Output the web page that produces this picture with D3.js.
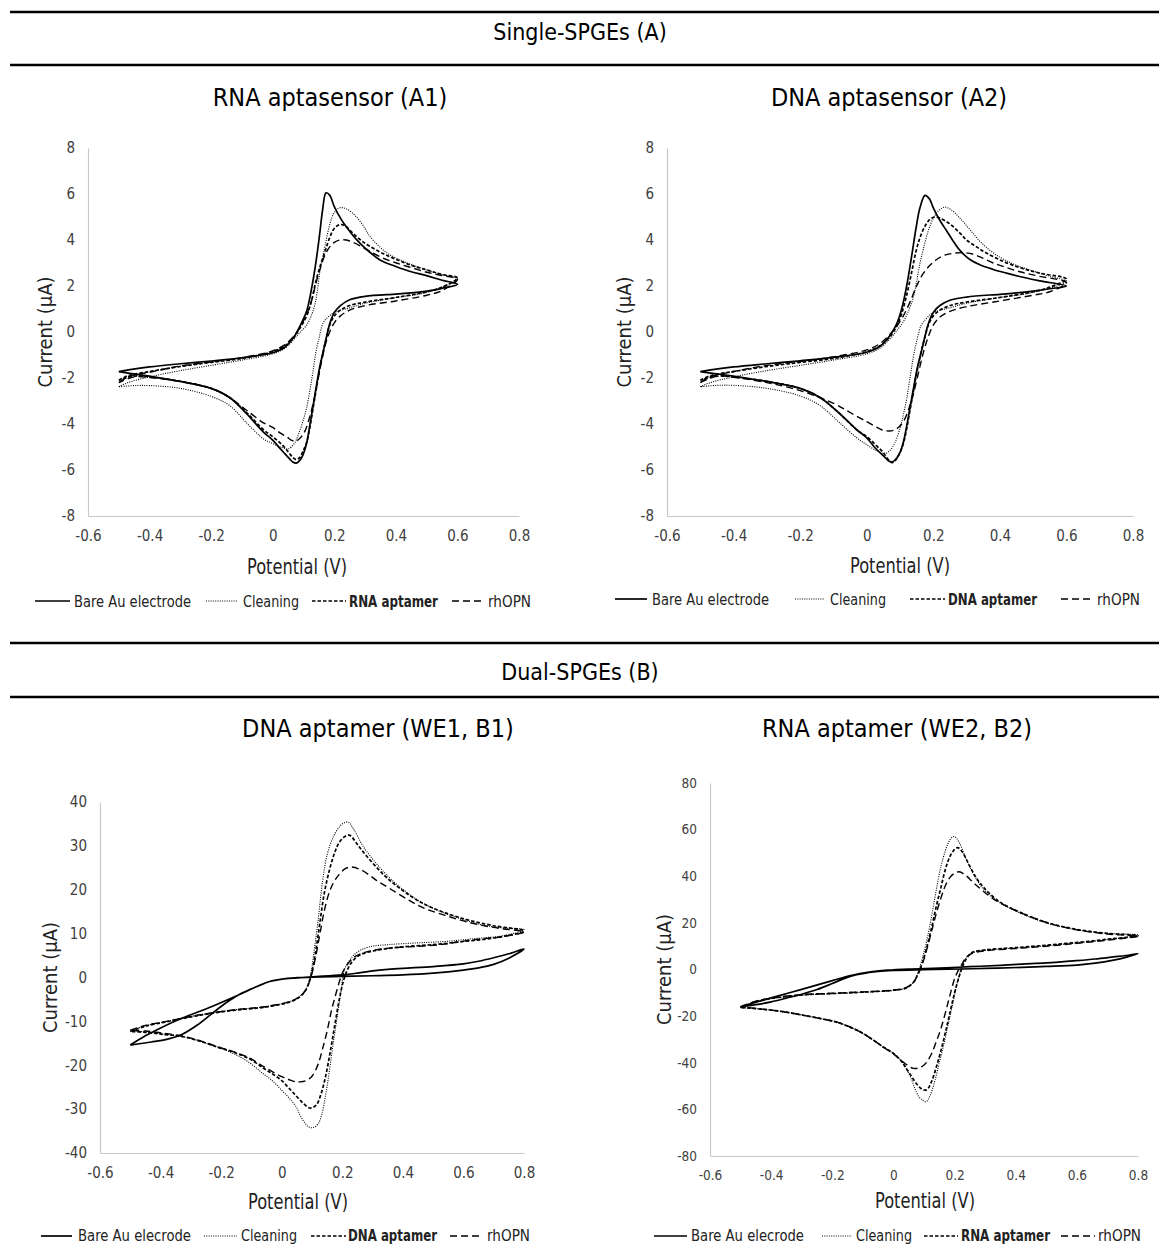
<!DOCTYPE html>
<html>
<head>
<meta charset="utf-8">
<script src="https://cdn.jsdelivr.net/npm/d3@7"></script>
<style>
  body { margin: 0; background: #fff; }
  svg { display: block; }
  text { font-family: 'Liberation Sans Narrow', 'Arial Narrow', 'DejaVu Sans Condensed', sans-serif; fill: #000; }
</style>
</head>
<body>
<svg id="fig" width="1159" height="1249"></svg>
<script>
// ---- data: [potential (V), current (uA)], forward scan then reverse scan ----
var a1Bare = [[-0.5,-1.72],[-0.4,-1.52],[-0.3,-1.38],[-0.2,-1.26],[-0.1,-1.12],[0,-0.9],[0.04,-0.65],[0.07,-0.2],[0.09,0.3],[0.11,0.9],[0.125,1.8],[0.14,3.0],[0.152,4.2],[0.162,5.3],[0.173,6.05],[0.185,5.95],[0.2,5.45],[0.22,4.95],[0.24,4.55],[0.27,4.05],[0.3,3.65],[0.35,3.12],[0.4,2.85],[0.45,2.62],[0.5,2.45],[0.55,2.25],[0.6,2.08],
  [0.55,1.9],[0.5,1.78],[0.45,1.7],[0.4,1.65],[0.3,1.55],[0.25,1.4],[0.22,1.15],[0.2,0.85],[0.185,0.35],[0.175,-0.2],[0.165,-0.8],[0.153,-1.5],[0.14,-2.5],[0.13,-3.3],[0.12,-4.1],[0.11,-4.85],[0.098,-5.35],[0.088,-5.58],[0.077,-5.7],[0.065,-5.65],[0.055,-5.52],[0.04,-5.3],[0.023,-5.05],[0,-4.7],[-0.03,-4.35],[-0.085,-3.55],[-0.14,-2.85],[-0.2,-2.45],[-0.3,-2.15],[-0.4,-1.92],[-0.5,-1.72]];
var a1Cleaning = [[-0.5,-2.38],[-0.47,-2.2],[-0.4,-1.95],[-0.3,-1.68],[-0.2,-1.45],[-0.1,-1.22],[0,-0.95],[0.04,-0.7],[0.07,-0.3],[0.09,0.0],[0.11,0.3],[0.125,0.7],[0.137,1.2],[0.145,1.8],[0.153,2.6],[0.162,3.2],[0.17,3.75],[0.186,4.7],[0.2,5.2],[0.218,5.4],[0.24,5.35],[0.272,5.0],[0.3,4.5],[0.316,4.15],[0.37,3.45],[0.42,3.1],[0.446,2.95],[0.5,2.7],[0.55,2.5],[0.6,2.3],
  [0.5,1.72],[0.4,1.5],[0.3,1.25],[0.25,1.05],[0.2,0.85],[0.18,0.65],[0.164,0.4],[0.15,-0.3],[0.14,-0.9],[0.13,-1.8],[0.12,-2.6],[0.11,-3.3],[0.1,-3.8],[0.085,-4.4],[0.07,-4.85],[0.05,-5.08],[0.03,-5.02],[0,-4.85],[-0.03,-4.65],[-0.085,-3.95],[-0.14,-3.2],[-0.2,-2.8],[-0.3,-2.45],[-0.4,-2.33],[-0.45,-2.33],[-0.5,-2.38]];
var a1Aptamer = [[-0.5,-2.1],[-0.47,-1.9],[-0.4,-1.72],[-0.3,-1.5],[-0.2,-1.32],[-0.1,-1.15],[0,-0.85],[0.04,-0.6],[0.07,-0.2],[0.09,0.2],[0.11,0.7],[0.125,1.3],[0.14,2.2],[0.155,2.9],[0.17,3.5],[0.185,4.1],[0.2,4.5],[0.218,4.67],[0.235,4.62],[0.26,4.3],[0.29,3.95],[0.316,3.72],[0.36,3.4],[0.402,3.15],[0.45,2.9],[0.5,2.7],[0.55,2.5],[0.6,2.35],
  [0.55,1.95],[0.5,1.75],[0.4,1.5],[0.3,1.3],[0.25,1.15],[0.22,0.95],[0.2,0.7],[0.185,0.3],[0.175,-0.2],[0.163,-0.9],[0.15,-1.8],[0.14,-2.6],[0.13,-3.4],[0.12,-4.2],[0.11,-4.8],[0.098,-5.2],[0.088,-5.45],[0.077,-5.55],[0.065,-5.45],[0.05,-5.2],[0.03,-4.9],[0,-4.55],[-0.03,-4.25],[-0.085,-3.5],[-0.14,-2.85],[-0.2,-2.45],[-0.3,-2.15],[-0.4,-1.95],[-0.45,-1.92],[-0.5,-2.1]];
var a1Rhopn = [[-0.5,-2.2],[-0.47,-1.95],[-0.4,-1.75],[-0.3,-1.48],[-0.2,-1.3],[-0.1,-1.12],[0,-0.82],[0.04,-0.55],[0.07,-0.15],[0.09,0.25],[0.11,0.75],[0.125,1.3],[0.14,2.1],[0.155,2.8],[0.17,3.35],[0.185,3.7],[0.2,3.9],[0.218,4.0],[0.24,4.0],[0.26,3.9],[0.29,3.7],[0.316,3.5],[0.36,3.2],[0.402,3.0],[0.45,2.8],[0.5,2.6],[0.55,2.45],[0.6,2.3],
  [0.55,1.8],[0.5,1.6],[0.4,1.35],[0.3,1.15],[0.25,0.95],[0.22,0.7],[0.2,0.4],[0.185,0.0],[0.172,-0.5],[0.16,-1.2],[0.148,-2.0],[0.135,-2.9],[0.12,-3.7],[0.105,-4.3],[0.09,-4.6],[0.075,-4.75],[0.06,-4.7],[0.045,-4.55],[0.025,-4.4],[0,-4.15],[-0.03,-3.95],[-0.085,-3.4],[-0.14,-2.85],[-0.2,-2.45],[-0.3,-2.15],[-0.4,-1.98],[-0.45,-1.95],[-0.5,-2.2]];

var a2Bare = [[-0.5,-1.72],[-0.4,-1.52],[-0.3,-1.38],[-0.2,-1.25],[-0.1,-1.1],[0,-0.88],[0.04,-0.62],[0.07,-0.15],[0.09,0.35],[0.105,1.0],[0.12,2.0],[0.135,3.3],[0.148,4.5],[0.16,5.4],[0.175,5.94],[0.188,5.8],[0.2,5.4],[0.22,4.85],[0.24,4.4],[0.26,3.95],[0.28,3.55],[0.31,3.15],[0.34,2.92],[0.38,2.72],[0.42,2.56],[0.47,2.38],[0.52,2.22],[0.6,2.0],
  [0.55,1.88],[0.5,1.78],[0.45,1.7],[0.4,1.64],[0.3,1.52],[0.25,1.38],[0.22,1.15],[0.2,0.85],[0.185,0.35],[0.175,-0.2],[0.165,-0.8],[0.153,-1.5],[0.14,-2.5],[0.13,-3.3],[0.12,-4.1],[0.11,-4.8],[0.098,-5.3],[0.088,-5.52],[0.077,-5.65],[0.065,-5.6],[0.055,-5.45],[0.04,-5.25],[0.023,-5.0],[0,-4.6],[-0.03,-4.25],[-0.085,-3.5],[-0.14,-2.85],[-0.2,-2.45],[-0.3,-2.15],[-0.4,-1.92],[-0.5,-1.72]];
var a2Cleaning = [[-0.5,-2.38],[-0.47,-2.2],[-0.4,-1.95],[-0.3,-1.68],[-0.2,-1.45],[-0.1,-1.22],[0,-0.95],[0.04,-0.7],[0.07,-0.3],[0.09,0.05],[0.11,0.45],[0.125,0.9],[0.14,1.5],[0.15,2.2],[0.16,3.0],[0.17,3.6],[0.185,4.4],[0.2,4.95],[0.218,5.3],[0.235,5.43],[0.255,5.3],[0.28,4.95],[0.31,4.45],[0.35,3.8],[0.4,3.25],[0.45,2.9],[0.5,2.65],[0.55,2.42],[0.6,2.2],
  [0.5,1.72],[0.4,1.5],[0.3,1.25],[0.25,1.05],[0.2,0.85],[0.18,0.6],[0.164,0.3],[0.15,-0.4],[0.14,-1.1],[0.13,-2.0],[0.12,-2.9],[0.11,-3.6],[0.1,-4.2],[0.085,-4.8],[0.07,-5.15],[0.055,-5.28],[0.035,-5.2],[0,-4.9],[-0.03,-4.6],[-0.085,-3.9],[-0.14,-3.2],[-0.2,-2.78],[-0.3,-2.45],[-0.4,-2.32],[-0.45,-2.32],[-0.5,-2.38]];
var a2Aptamer = [[-0.5,-2.1],[-0.47,-1.9],[-0.4,-1.72],[-0.3,-1.5],[-0.2,-1.32],[-0.1,-1.15],[0,-0.85],[0.04,-0.6],[0.07,-0.2],[0.09,0.25],[0.105,0.8],[0.12,1.6],[0.135,2.6],[0.148,3.5],[0.16,4.1],[0.175,4.6],[0.19,4.9],[0.205,5.0],[0.22,4.95],[0.25,4.7],[0.28,4.3],[0.3,4.0],[0.33,3.7],[0.36,3.43],[0.41,3.07],[0.46,2.8],[0.52,2.56],[0.6,2.3],
  [0.55,1.95],[0.5,1.75],[0.4,1.5],[0.3,1.3],[0.25,1.15],[0.22,0.95],[0.2,0.7],[0.185,0.3],[0.175,-0.2],[0.163,-0.9],[0.15,-1.8],[0.14,-2.6],[0.13,-3.4],[0.12,-4.2],[0.11,-4.85],[0.098,-5.3],[0.088,-5.55],[0.077,-5.68],[0.065,-5.55],[0.05,-5.25],[0.03,-4.95],[0,-4.55],[-0.03,-4.25],[-0.085,-3.5],[-0.14,-2.85],[-0.2,-2.45],[-0.3,-2.15],[-0.4,-1.95],[-0.45,-1.92],[-0.5,-2.1]];
var a2Rhopn = [[-0.5,-2.2],[-0.47,-1.95],[-0.4,-1.72],[-0.3,-1.45],[-0.2,-1.28],[-0.1,-1.08],[0,-0.78],[0.04,-0.5],[0.07,-0.1],[0.09,0.25],[0.11,0.7],[0.13,1.3],[0.15,2.0],[0.17,2.55],[0.19,2.9],[0.21,3.15],[0.23,3.32],[0.26,3.42],[0.29,3.45],[0.32,3.38],[0.35,3.2],[0.38,3.0],[0.41,2.85],[0.46,2.62],[0.52,2.42],[0.6,2.15],
  [0.55,1.75],[0.5,1.6],[0.4,1.35],[0.3,1.1],[0.25,0.9],[0.22,0.65],[0.2,0.3],[0.185,-0.2],[0.17,-0.9],[0.155,-1.8],[0.14,-2.7],[0.125,-3.4],[0.11,-3.9],[0.095,-4.15],[0.08,-4.28],[0.06,-4.3],[0.045,-4.25],[0.025,-4.1],[0,-3.9],[-0.05,-3.5],[-0.1,-3.1],[-0.2,-2.55],[-0.3,-2.2],[-0.4,-1.97],[-0.45,-1.92],[-0.5,-2.2]];

var b1Bare = [[-0.5,-15.4],[-0.45,-13.3],[-0.4,-11.5],[-0.33,-9.3],[-0.23,-6.6],[-0.13,-3.6],[-0.08,-2.0],[-0.04,-0.9],[0,-0.4],[0.05,-0.1],[0.1,0.15],[0.2,0.6],[0.25,1.0],[0.3,1.5],[0.35,1.85],[0.4,2.1],[0.5,2.5],[0.6,3.1],[0.65,3.7],[0.7,4.5],[0.75,5.4],[0.8,6.5],
  [0.75,4.4],[0.7,3.0],[0.65,2.2],[0.6,1.7],[0.5,1.0],[0.4,0.6],[0.3,0.4],[0.2,0.25],[0.1,0.1],[0.05,-0.05],[0,-0.35],[-0.04,-0.9],[-0.08,-2.0],[-0.13,-3.5],[-0.18,-5.6],[-0.23,-8.2],[-0.28,-10.9],[-0.33,-13.0],[-0.38,-14.1],[-0.43,-14.7],[-0.47,-15.1],[-0.5,-15.4]];
var b1Cleaning = [[-0.5,-12.2],[-0.45,-11.0],[-0.38,-10.0],[-0.27,-8.5],[-0.16,-7.4],[-0.05,-6.6],[0.03,-5.4],[0.06,-4.3],[0.08,-2.6],[0.095,0.5],[0.105,5],[0.12,13],[0.135,22],[0.15,28],[0.17,32],[0.19,34.3],[0.205,35.2],[0.22,35.4],[0.24,33.5],[0.268,30],[0.3,27],[0.33,24.6],[0.37,21.8],[0.415,19.3],[0.47,16.8],[0.537,14.7],[0.6,13.2],[0.66,12.0],[0.73,11.3],[0.8,10.9],
  [0.73,9.5],[0.66,9.0],[0.6,8.6],[0.537,8.2],[0.45,7.9],[0.354,7.5],[0.29,7.0],[0.25,5.8],[0.225,4.0],[0.207,1.75],[0.195,-3.6],[0.183,-9],[0.17,-15],[0.158,-21],[0.146,-26.4],[0.133,-31],[0.121,-33.3],[0.105,-34.2],[0.09,-34.1],[0.075,-33],[0.06,-31.3],[0.048,-29.5],[0.025,-27.5],[0,-25.7],[-0.03,-23.6],[-0.06,-22],[-0.105,-19.5],[-0.16,-17.3],[-0.215,-15.8],[-0.27,-14.5],[-0.325,-13.5],[-0.4,-12.8],[-0.45,-12.4],[-0.5,-12.2]];
var b1Aptamer = [[-0.5,-12.3],[-0.45,-11.1],[-0.38,-10.1],[-0.27,-8.6],[-0.16,-7.5],[-0.05,-6.7],[0.03,-5.5],[0.06,-4.4],[0.08,-2.8],[0.095,0.0],[0.11,5],[0.125,12],[0.14,19],[0.158,24.6],[0.175,28.5],[0.19,30.8],[0.21,32.2],[0.225,32.4],[0.25,30.3],[0.28,27.7],[0.32,24.6],[0.354,22.3],[0.4,19.8],[0.45,17.5],[0.5,15.8],[0.6,13.4],[0.7,11.8],[0.8,10.6],
  [0.7,9.0],[0.6,8.2],[0.5,7.5],[0.4,7.0],[0.35,6.6],[0.3,6.0],[0.26,5.2],[0.235,3.8],[0.22,2.2],[0.205,-0.5],[0.19,-5],[0.175,-11],[0.16,-17],[0.145,-22.5],[0.13,-26.5],[0.115,-29],[0.1,-29.7],[0.09,-29.7],[0.07,-28.6],[0.048,-27.0],[0.025,-25.3],[0,-23.5],[-0.03,-22.0],[-0.06,-20.7],[-0.105,-18.6],[-0.16,-17.0],[-0.215,-15.8],[-0.27,-14.5],[-0.325,-13.5],[-0.4,-12.9],[-0.45,-12.5],[-0.5,-12.3]];
var b1Rhopn = [[-0.5,-12.0],[-0.45,-10.9],[-0.38,-10.0],[-0.27,-8.5],[-0.16,-7.4],[-0.05,-6.6],[0.03,-5.4],[0.06,-4.3],[0.08,-2.8],[0.095,-0.2],[0.11,4],[0.125,9.5],[0.14,15],[0.155,19],[0.17,21.5],[0.19,23.5],[0.21,24.8],[0.23,25.2],[0.26,24.6],[0.29,23.3],[0.32,21.8],[0.354,20.4],[0.415,17.8],[0.47,15.8],[0.537,14.2],[0.6,12.9],[0.66,11.9],[0.73,11.1],[0.8,10.4],
  [0.73,9.3],[0.66,8.8],[0.6,8.3],[0.537,7.6],[0.45,7.1],[0.354,6.7],[0.29,6.0],[0.243,4.8],[0.215,2.8],[0.2,1.0],[0.188,-1.5],[0.175,-4.7],[0.164,-7.6],[0.15,-12.2],[0.134,-16.5],[0.12,-19.8],[0.1,-22.5],[0.08,-23.5],[0.06,-23.8],[0.048,-23.8],[0.025,-23.3],[0,-22.6],[-0.03,-21.5],[-0.06,-20.3],[-0.105,-18.4],[-0.16,-16.9],[-0.215,-15.7],[-0.27,-14.4],[-0.325,-13.4],[-0.4,-12.6],[-0.45,-12.2],[-0.5,-12.0]];

var b2Bare = [[-0.5,-16],[-0.4,-12.2],[-0.3,-8.5],[-0.2,-4.8],[-0.14,-2.6],[-0.08,-1.1],[-0.02,-0.3],[0.05,0.2],[0.15,0.6],[0.25,1.2],[0.35,1.8],[0.42,2.3],[0.5,2.8],[0.6,3.8],[0.66,4.5],[0.72,5.4],[0.76,6.0],[0.8,6.8],
  [0.76,5.2],[0.72,4.0],[0.66,2.7],[0.6,1.9],[0.5,1.3],[0.42,0.9],[0.3,0.45],[0.18,0.1],[0.1,-0.1],[0,-0.4],[-0.05,-0.8],[-0.08,-1.3],[-0.12,-2.2],[-0.16,-3.8],[-0.2,-6.0],[-0.25,-8.6],[-0.3,-10.6],[-0.35,-12.3],[-0.4,-13.9],[-0.45,-15.1],[-0.5,-16]];
var b2Cleaning = [[-0.5,-16.3],[-0.45,-13.8],[-0.4,-12.5],[-0.3,-11.0],[-0.2,-10.4],[-0.1,-9.8],[0,-9.0],[0.04,-8.0],[0.065,-5.5],[0.08,-1.5],[0.095,5],[0.11,13],[0.125,23],[0.14,34],[0.155,44],[0.17,51],[0.18,54.5],[0.19,56.5],[0.2,57.0],[0.215,54.5],[0.239,47],[0.27,39],[0.298,34],[0.35,28.5],[0.418,24],[0.5,20],[0.6,17],[0.7,15.5],[0.8,14.8],
  [0.7,12.8],[0.6,11.4],[0.5,10.2],[0.4,9.2],[0.3,8.2],[0.26,7.2],[0.24,5.4],[0.225,1.5],[0.21,-5],[0.195,-14],[0.18,-23],[0.165,-32],[0.15,-40],[0.135,-48],[0.12,-54],[0.107,-56.7],[0.095,-56],[0.083,-54.5],[0.07,-51],[0.06,-47.4],[0.04,-42],[0.024,-38.9],[0,-36],[-0.036,-33.1],[-0.08,-29],[-0.12,-26],[-0.18,-22.8],[-0.24,-21],[-0.3,-19.5],[-0.36,-18.1],[-0.43,-17],[-0.5,-16.3]];
var b2Aptamer = [[-0.5,-16.3],[-0.45,-13.7],[-0.4,-12.4],[-0.3,-10.9],[-0.2,-10.3],[-0.1,-9.7],[0,-8.9],[0.04,-8.0],[0.065,-5.6],[0.08,-2],[0.095,3],[0.11,10],[0.125,18],[0.14,27],[0.155,35],[0.17,43],[0.185,48.5],[0.2,51.5],[0.21,52.3],[0.225,50.5],[0.245,45.5],[0.27,39.5],[0.3,34.5],[0.35,28.8],[0.418,24.3],[0.5,20.2],[0.6,17.2],[0.7,15.5],[0.8,14.5],
  [0.7,13.0],[0.6,11.6],[0.5,10.4],[0.4,9.4],[0.3,8.4],[0.26,7.5],[0.245,5.8],[0.23,2.5],[0.215,-3],[0.2,-10],[0.185,-18.5],[0.17,-27],[0.155,-35],[0.14,-42],[0.125,-48],[0.11,-51.5],[0.1,-51.7],[0.085,-50.5],[0.07,-48],[0.055,-45],[0.04,-42],[0.024,-39],[0,-36],[-0.036,-33],[-0.08,-29],[-0.12,-26],[-0.18,-22.8],[-0.24,-21],[-0.3,-19.5],[-0.36,-18.1],[-0.43,-17],[-0.5,-16.3]];
var b2Rhopn = [[-0.5,-16.0],[-0.45,-13.6],[-0.4,-12.3],[-0.3,-10.8],[-0.2,-10.2],[-0.1,-9.6],[0,-8.8],[0.04,-7.9],[0.065,-5.6],[0.08,-2.2],[0.095,2.5],[0.11,9],[0.125,16.5],[0.14,24],[0.155,30.5],[0.17,36],[0.185,39.5],[0.2,41.3],[0.215,41.9],[0.235,40.5],[0.26,37.5],[0.29,34],[0.33,30],[0.38,26.5],[0.418,24.3],[0.5,20.2],[0.6,17.0],[0.7,15.2],[0.8,14.3],
  [0.7,12.6],[0.6,11.2],[0.5,10.0],[0.4,9.0],[0.3,8.0],[0.26,7.0],[0.24,5.5],[0.225,2.5],[0.21,-1],[0.2,-4],[0.185,-11],[0.17,-18.5],[0.155,-25.5],[0.14,-31],[0.125,-36],[0.11,-39.5],[0.095,-41.5],[0.08,-42.3],[0.065,-42.4],[0.05,-41.5],[0.035,-40],[0.02,-38.5],[0,-36.2],[-0.036,-33],[-0.08,-29],[-0.12,-26],[-0.18,-22.8],[-0.24,-21],[-0.3,-19.5],[-0.36,-18.1],[-0.43,-17],[-0.5,-16.0]];

// ---- ticks and labels ----
var xTicks = [-0.6, -0.4, -0.2, 0, 0.2, 0.4, 0.6, 0.8];
var aYTicks = [-8, -6, -4, -2, 0, 2, 4, 6, 8];
var b1YTicks = [-40, -30, -20, -10, 0, 10, 20, 30, 40];
var b2YTicks = [-80, -60, -40, -20, 0, 20, 40, 60, 80];
var legendA1 = ['Bare Au electrode', 'Cleaning', 'RNA aptamer', 'rhOPN'];
var legendA2 = ['Bare Au electrode', 'Cleaning', 'DNA aptamer', 'rhOPN'];
var legendB1 = ['Bare Au elecrode', 'Cleaning', 'DNA aptamer', 'rhOPN'];
var legendB2 = ['Bare Au elecrode', 'Cleaning', 'RNA aptamer', 'rhOPN'];
var sectionTitles = ['Single-SPGEs (A)', 'Dual-SPGEs (B)'];

// line styles: bare, cleaning, aptamer, rhOPN
var styles = [
  {dash: null, w: 1.7},
  {dash: '1 1.3', w: 1.1},
  {dash: '3.5 2', w: 1.7},
  {dash: '7 4', w: 1.4}
];
// legend label widths (narrow face in the original)
var legendWidth = {'Bare Au electrode': 117, 'Bare Au elecrode': 113, 'Cleaning': 56,
  'RNA aptamer': 89, 'DNA aptamer': 89, 'rhOPN': 43};

var svg = d3.select('#fig');

// section headers with rules
[{t: sectionTitles[0], y1: 12, ty: 32, y2: 65}, {t: sectionTitles[1], y1: 643, ty: 672, y2: 697}].forEach(function(s) {
  svg.append('line').attr('x1', 10).attr('x2', 1159).attr('y1', s.y1).attr('y2', s.y1)
    .attr('stroke', '#000').attr('stroke-width', 2.5);
  svg.append('line').attr('x1', 10).attr('x2', 1159).attr('y1', s.y2).attr('y2', s.y2)
    .attr('stroke', '#000').attr('stroke-width', 2.5);
  svg.append('text').attr('x', 580).attr('y', s.ty).attr('dy', '0.35em')
    .attr('text-anchor', 'middle').style('font-size', '23px').text(s.t);
});

// legend entries: [line start, line end, text x]
var panels = [
  {title: 'RNA aptasensor (A1)', tx: 330, ty: 97, x0: 88, x1: 519, yTop: 148, yBot: 516, yt: aYTicks, tfs: 15,
   series: [a1Bare, a1Cleaning, a1Aptamer, a1Rhopn], legend: legendA1, ly: 601, lfs: 16.5,
   lx: [[35, 70, 74], [206, 237, 243], [312, 346, 349], [452, 484, 488]],
   ylx: 45, xlx: 297, xly: 567},
  {title: 'DNA aptasensor (A2)', tx: 889, ty: 97, x0: 667, x1: 1133, yTop: 148, yBot: 516, yt: aYTicks, tfs: 15,
   series: [a2Bare, a2Cleaning, a2Aptamer, a2Rhopn], legend: legendA2, ly: 599, lfs: 16.5,
   lx: [[615, 647, 652], [795, 824, 830], [910, 945, 948], [1061, 1093, 1097]],
   ylx: 624, xlx: 900, xly: 566},
  {title: 'DNA aptamer (WE1, B1)', tx: 378, ty: 728, x0: 100, x1: 524, yTop: 802, yBot: 1153, yt: b1YTicks, tfs: 15,
   series: [b1Bare, b1Cleaning, b1Aptamer, b1Rhopn], legend: legendB1, ly: 1236, lfs: 15.5,
   lx: [[41, 72, 78], [204, 237, 241], [311, 346, 348], [450, 483, 487]],
   ylx: 50, xlx: 298, xly: 1202},
  {title: 'RNA aptamer (WE2, B2)', tx: 897, ty: 728, x0: 710, x1: 1138, yTop: 783, yBot: 1156, yt: b2YTicks, tfs: 13.5,
   series: [b2Bare, b2Cleaning, b2Aptamer, b2Rhopn], legend: legendB2, ly: 1236, lfs: 15.5,
   lx: [[654, 687, 691], [822, 852, 856], [924, 958, 961], [1061, 1095, 1098]],
   ylx: 664, xlx: 925, xly: 1201}
];

panels.forEach(function(p) {
  var x = d3.scaleLinear().domain([xTicks[0], xTicks[xTicks.length - 1]]).range([p.x0, p.x1]);
  var y = d3.scaleLinear().domain([p.yt[0], p.yt[p.yt.length - 1]]).range([p.yBot, p.yTop]);
  var g = svg.append('g');
  var fmt = function(d) { return String(d); };

  g.append('text').attr('x', p.tx).attr('y', p.ty).attr('dy', '0.35em')
    .attr('text-anchor', 'middle').style('font-size', '25px').text(p.title);

  // axes (Excel style: grey lines, no ticks)
  var ya = g.append('g').attr('transform', 'translate(' + p.x0 + ',0)')
    .call(d3.axisLeft(y).tickValues(p.yt).tickSize(0).tickPadding(13).tickFormat(fmt));
  var xa = g.append('g').attr('transform', 'translate(0,' + p.yBot + ')')
    .call(d3.axisBottom(x).tickValues(xTicks).tickSize(0).tickPadding(14).tickFormat(fmt));
  [ya, xa].forEach(function(a) {
    a.select('.domain').attr('stroke', '#c8c8c8').attr('stroke-width', 1.2);
    a.selectAll('text').style('font-size', p.tfs + 'px').style('fill', '#404040');
  });

  // curves
  var line = d3.line().x(function(d) { return x(d[0]); }).y(function(d) { return y(d[1]); })
    .curve(d3.curveCatmullRom.alpha(0.5));
  p.series.forEach(function(s, i) {
    g.append('path').datum(s).attr('d', line).attr('fill', 'none')
      .attr('stroke', '#000').attr('stroke-width', styles[i].w)
      .attr('stroke-dasharray', styles[i].dash).attr('stroke-linejoin', 'round');
  });

  // axis titles
  g.append('text').attr('transform', 'translate(' + p.ylx + ',' + ((p.yTop + p.yBot) / 2) + ') rotate(-90)')
    .attr('dy', '0.35em').attr('text-anchor', 'middle').style('font-size', '20px').style('fill', '#222')
    .text('Current (\u00b5A)');
  g.append('text').attr('x', p.xlx).attr('y', p.xly).attr('dy', '0.35em')
    .attr('text-anchor', 'middle').style('font-size', '21px').style('fill', '#222')
    .attr('textLength', 100).attr('lengthAdjust', 'spacingAndGlyphs').text('Potential (V)');

  // legend
  p.legend.forEach(function(lab, i) {
    var e = p.lx[i];
    g.append('line').attr('x1', e[0]).attr('x2', e[1]).attr('y1', p.ly).attr('y2', p.ly)
      .attr('stroke', '#000').attr('stroke-width', styles[i].w).attr('stroke-dasharray', styles[i].dash);
    g.append('text').attr('x', e[2]).attr('y', p.ly).attr('dy', '0.35em')
      .style('font-size', p.lfs + 'px').style('fill', '#222').style('font-weight', i === 2 ? 'bold' : 'normal')
      .attr('textLength', legendWidth[lab]).attr('lengthAdjust', 'spacingAndGlyphs').text(lab);
  });
});
</script>
</body>
</html>
